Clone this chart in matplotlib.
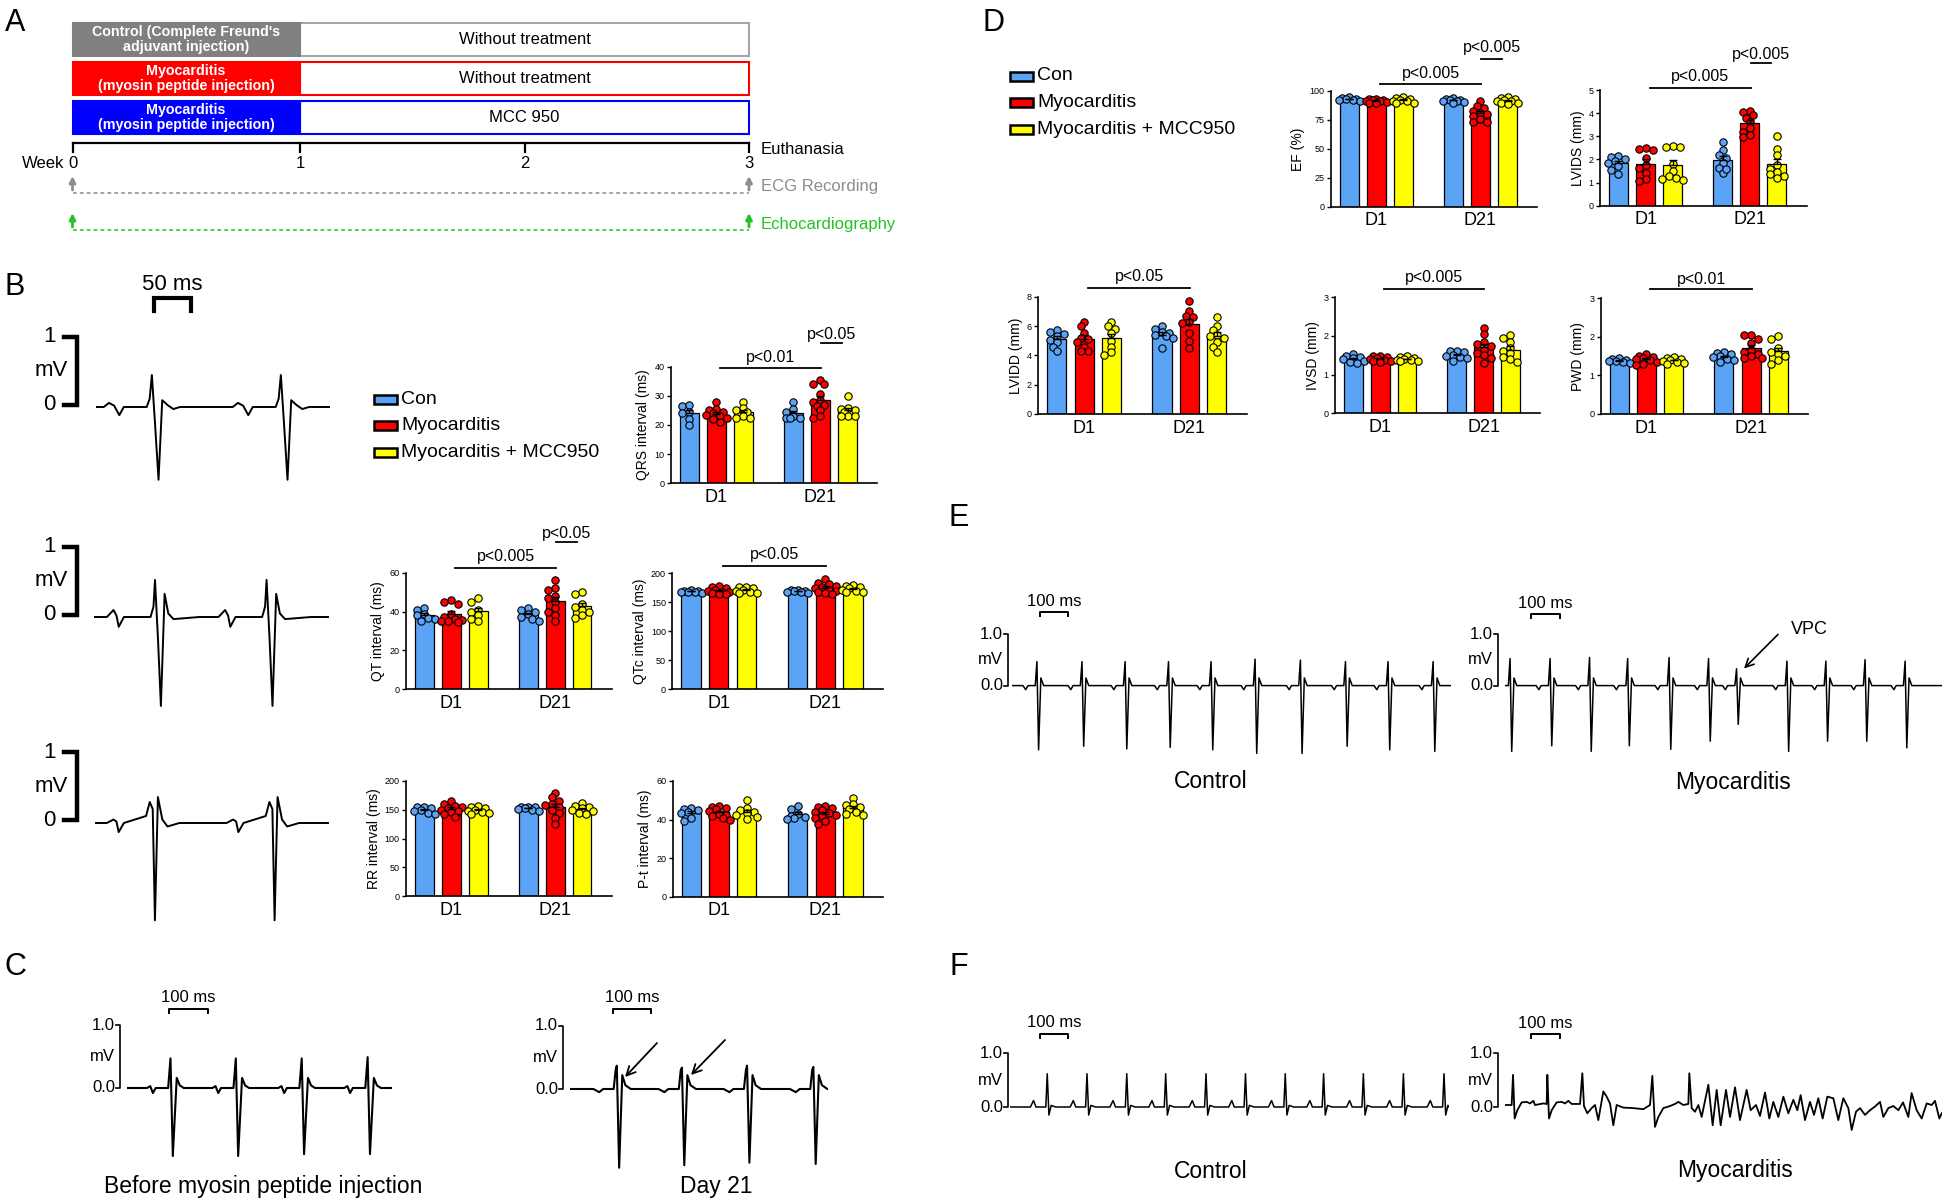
import numpy as np
import matplotlib
matplotlib.use('Agg')
import matplotlib.pyplot as plt
from matplotlib.patches import Rectangle

plt.rcParams['font.family'] = ['Liberation Sans', 'DejaVu Sans']

W, H = 1944, 1201
fig = plt.figure(figsize=(W / 100, H / 100), dpi=100)

# ---------------- data ----------------
GROUPS = ['Con', 'Myocarditis', 'Myocarditis + MCC950']
GROUP_COLORS = ['#5ba3f5', '#ff0000', '#ffff00']
DAYS = ['D1', 'D21']

# each list: D1 Con, D1 Myo, D1 MCC, D21 Con, D21 Myo, D21 MCC
qrs = [[26.5, 27, 24.5, 24, 22, 20],
       [28, 25.5, 25, 24.5, 24, 23.5, 23, 22.5, 22, 21],
       [28, 26, 25, 24.5, 23, 22.5, 22.5],
       [28, 25.5, 24.5, 23, 22.5, 22.5, 22.5],
       [35.5, 34.2, 34, 30.5, 28.5, 28, 27, 26.5, 25, 23, 22.5],
       [30, 26, 25.5, 25, 24.5, 23, 23, 23]]
qt = [[42, 41, 39, 38, 36.5, 35, 36],
      [46, 45, 44, 38.5, 37, 36, 35.5, 35, 35, 34.5],
      [47, 45, 41, 40, 38, 36, 35],
      [42, 41, 40, 38.5, 37, 36, 35],
      [56, 52, 51, 48, 47, 45, 42, 40, 38, 35],
      [50, 49, 44, 42.5, 41, 40, 38, 36.5]]
qtc = [[172, 170, 170, 168, 168, 167, 166],
       [178, 176, 174, 172, 170, 168, 167, 166, 165, 164],
       [177, 177, 175, 172, 170, 168, 166, 166],
       [172, 171, 170, 169, 168, 167, 166],
       [190, 184, 181, 178, 176, 174, 172, 170, 168, 166, 165],
       [179, 178, 176, 174, 172, 170, 168, 167]]
rr = [[155, 155, 153, 150, 148, 145, 143],
      [165, 160, 157, 155, 153, 150, 148, 146, 143, 137],
      [157, 155, 153, 150, 148, 146, 145, 142],
      [155, 155, 154, 153, 152, 150, 148],
      [180, 172, 165, 160, 158, 155, 150, 145, 135, 125],
      [162, 157, 155, 153, 150, 148, 145, 143]]
pt = [[46, 45.5, 45, 44, 43.5, 41, 39],
      [47, 46.5, 46, 45.5, 44.5, 43, 42.5, 42, 41, 40],
      [50, 46, 45, 44, 43.5, 42.5, 41.5, 40.5],
      [47, 45.5, 43, 42, 41.5, 41, 40.5],
      [47, 46.5, 46, 45, 44, 43.5, 42.5, 42, 41, 39.5, 37.5],
      [51, 48, 47.5, 46.5, 45.5, 44, 43, 42.5]]
ef = [[95, 94, 93.5, 93, 92.5, 92, 91],
      [93, 93, 92, 92, 91.5, 91, 90.5, 90, 90],
      [95, 94, 93, 92, 91.5, 91, 90, 89.5],
      [94, 93, 92.5, 92, 91.5, 91, 90.5, 90],
      [91, 87, 85, 83, 81, 80, 78, 76, 73, 73],
      [95, 94, 93, 92, 91.5, 91, 90, 89.5, 89]]
lvids = [[2.15, 2.1, 2.0, 1.95, 1.85, 1.7, 1.55, 1.35],
         [2.5, 2.45, 2.4, 2.05, 1.75, 1.65, 1.4, 1.15, 1.05],
         [2.6, 2.55, 2.55, 1.8, 1.5, 1.3, 1.2, 1.15, 1.1],
         [2.75, 2.4, 2.2, 2.05, 1.85, 1.65, 1.4, 1.6],
         [4.1, 4.05, 3.9, 3.8, 3.6, 3.35, 3.2, 3.05, 2.95],
         [3.0, 2.45, 2.2, 1.75, 1.6, 1.45, 1.35, 1.3, 1.2]]
lvidd = [[5.7, 5.6, 5.45, 5.3, 5.05, 4.9, 4.6, 4.3],
         [6.3, 6.0, 5.5, 5.2, 5.1, 4.9, 4.6, 4.3, 4.3],
         [6.3, 6.0, 5.8, 5.5, 5.0, 4.6, 4.2, 4.0],
         [6.0, 5.8, 5.6, 5.5, 5.4, 5.3, 5.2, 4.5],
         [7.7, 7.0, 6.7, 6.6, 6.3, 6.2, 5.5, 5.0, 4.5],
         [6.6, 6.0, 5.7, 5.4, 5.3, 5.2, 4.9, 4.6, 4.2]]
ivsd = [[1.53, 1.48, 1.45, 1.42, 1.4, 1.35, 1.33, 1.3],
        [1.48, 1.47, 1.45, 1.42, 1.4, 1.38, 1.36, 1.34, 1.32],
        [1.47, 1.45, 1.43, 1.4, 1.38, 1.37, 1.36, 1.35],
        [1.62, 1.6, 1.58, 1.52, 1.48, 1.45, 1.42, 1.35],
        [2.2, 2.05, 1.85, 1.8, 1.75, 1.65, 1.55, 1.5, 1.42, 1.3],
        [2.03, 1.95, 1.85, 1.7, 1.6, 1.55, 1.45, 1.4, 1.32]]
pwd = [[1.45, 1.42, 1.4, 1.38, 1.37, 1.35, 1.33],
       [1.55, 1.5, 1.48, 1.45, 1.42, 1.4, 1.35, 1.3, 1.28],
       [1.47, 1.45, 1.43, 1.4, 1.38, 1.36, 1.33, 1.3],
       [1.6, 1.58, 1.55, 1.5, 1.47, 1.43, 1.4, 1.35],
       [2.05, 2.05, 1.95, 1.85, 1.65, 1.6, 1.55, 1.5, 1.45, 1.45],
       [2.03, 1.95, 1.7, 1.6, 1.55, 1.5, 1.4, 1.3]]

# ECG: beat templates (ms from R peak, mV) and beat times (ms)
b1_t = [-65, -58, -51, -44, -38, -7, -3, 0, 4, 9, 14, 21, 29, 38, 60]
b1_v = [0, 0.06, 0.02, -0.12, 0, 0, 0.12, 0.47, -0.2, -1.07, 0.1, 0.03, -0.03, 0, 0]
b1_beats = [75.5, 249.8]
b2_t = [-65, -56, -52, -49, -42, -6, -2, 0, 4, 8, 13, 18, 25, 60]
b2_v = [0, 0.1, 0.02, -0.14, 0, 0, 0.15, 0.53, -0.3, -1.27, 0.33, 0.05, -0.03, 0]
b2_beats = [82.4, 233.2]
b3_t = [-65, -56, -52, -49, -42, -12, -7, -3, 0, 4, 10, 17, 33, 60]
b3_v = [0, 0.05, 0.02, -0.13, 0, 0.1, 0.3, 0.2, -1.39, 0.37, 0.05, -0.05, 0, 0]
b3_beats = [81, 242.7]

cl_t = [-60, -52, -45, -38, -6, 0, 6, 16, 24, 34, 60]
cl_v = [0, 0.03, -0.08, 0, 0, 0.47, -1.08, 0.16, 0.04, 0, 0]
cl_beats = [111.5, 279, 448, 617]
cl_r = [0.47, 0.47, 0.47, 0.49]
cl_s = [-1.08, -1.08, -1.05, -1.05]
cr_t = [-60, -45, -35, -8, -3, 0, 6, 14, 22, 36, 60]
cr_v = [0, -0.05, 0, 0, 0.3, 0.37, -1.25, 0.22, 0.06, 0, 0]
cr_beats = [120, 287, 454, 624]
cr_r = [0.37, 0.34, 0.37, 0.35]
cr_s = [-1.25, -1.21, -1.17, -1.19]

e_t = [-50, -40, -32, -6, 0, 6, 14, 24, 40]
e_v = [0, -0.08, 0, 0, 0.47, -1.26, 0.15, 0, 0]
el_beats = [89, 250, 404, 559, 711, 868, 1030, 1191, 1343, 1504]
el_r = [0.47, 0.47, 0.47, 0.47, 0.47, 0.52, 0.50, 0.47, 0.47, 0.47]
el_s = [-1.26, -1.19, -1.24, -1.21, -1.26, -1.33, -1.33, -1.19, -1.26, -1.29]
er_beats = [18, 161, 302, 438, 586, 727, 827, 1007, 1146, 1286, 1429]
er_r = [0.53, 0.53, 0.55, 0.53, 0.55, 0.53, 0.33, 0.48, 0.48, 0.51, 0.48]
er_s = [-1.29, -1.18, -1.29, -1.18, -1.25, -1.09, -0.76, -1.29, -1.09, -1.09, -1.22]

fl_t = [-60, -49, -40, -5, 0, 6, 14, 30, 60]
fl_v = [0, 0.12, 0, 0, 0.62, -0.15, 0.03, 0, 0]
fl_beats = [133, 275, 417, 556, 700, 841, 983, 1120, 1262, 1405, 1550]

# myocarditis VT trace, vertices
fr_t = [0, 23.8, 28.6, 34.5, 44.0, 59.5, 77.4, 89.3, 101.2, 107.1, 136.9, 148.8,
        151.2, 157.1, 166.7, 184.5, 202.4, 214.3, 226.2, 238.1, 267.9, 276.2,
        282.1, 294.0, 309.5, 321.4, 333.3, 351.2, 363.1, 375.0, 386.9, 398.8,
        422.6, 458.3, 494.0, 517.9, 526.2, 535.7, 547.6, 565.5, 589.3, 607.1,
        619.0, 636.9, 654.8, 658.3, 666.7, 678.6, 690.5, 702.4, 726.2, 741.7,
        756.0, 770.2, 789.3, 803.6, 821.5, 839.3, 863.1, 877.4, 896.4, 910.7,
        928.6, 944.0, 958.3, 976.2, 994.1, 1011.9, 1029.8, 1044.0, 1055.9,
        1071.4, 1089.3, 1103.6, 1119.0, 1134.5, 1151.2, 1172.6, 1190.4, 1208.3,
        1226.2, 1238.1, 1253.6, 1267.9, 1285.7, 1303.6, 1321.4, 1339.3, 1351.2,
        1369.0, 1387.0, 1404.8, 1421.6, 1440.4, 1452.3, 1470.2, 1488.1, 1505.9,
        1523.8, 1535.7, 1551.2, 1559.5]
fr_v = [0, 0, 0.58, -0.26, -0.10, 0.05, 0.06, 0.03, 0.08, 0, 0.03, 0.02,
        0.58, -0.26, -0.10, 0.05, 0.06, 0.03, 0.08, 0.02, 0.02, 0.61,
        -0.02, -0.16, -0.06, 0, -0.29, 0.26, 0.16, 0.03, -0.39, 0,
        -0.05, -0.06, -0.08, 0, 0.56, -0.42, -0.23, -0.06, -0.02, 0.02,
        0.06, 0, 0.02, 0.61, -0.06, -0.13, 0, -0.23, 0.39, -0.39,
        0.29, -0.39, 0.29, -0.23, 0.34, -0.29, 0.29, -0.10, 0, -0.21,
        0.24, -0.26, 0.06, -0.23, 0.16, -0.16, 0.10, -0.10, 0.19,
        -0.29, 0.06, -0.19, 0.13, -0.26, 0.16, 0.13, -0.29, 0.13,
        -0.06, -0.48, -0.13, -0.06, -0.19, -0.10, -0.03, 0.06, -0.23,
        -0.06, -0.02, -0.10, 0.05, -0.23, 0.23, -0.10, -0.26, 0.03,
        0, 0.08, -0.26, -0.16]


# ---------------- helpers ----------------
def px_axes(x0, y0, x1, y1):
    return fig.add_axes([x0 / W, 1 - y1 / H, (x1 - x0) / W, (y1 - y0) / H])


BAR_POS = [0, 1, 2, 3.85, 4.85, 5.85]
XLIM = (-0.68, 6.95)


def swarm_offsets(vals, ppx, ppy, d=7.0, maxoff=0.42):
    # simple deterministic beeswarm (pixel space)
    cands = [0.0]
    for k in range(1, 8):
        cands += [-0.5 * k * d, 0.5 * k * d]
    cands = [c for c in cands if abs(c / ppx) <= maxoff]
    placed = []
    offs = np.zeros(len(vals))
    for i in np.argsort(vals)[::-1]:
        best, best_d = cands[0], -1
        for c in cands:
            if placed:
                dmin = min(np.hypot(c - px, (vals[i] - pv) * ppy) for px, pv in placed)
            else:
                dmin = 1e9
            if dmin >= 0.8 * d:
                best = c
                break
            if dmin > best_d:
                best, best_d = c, dmin
        placed.append((best, vals[i]))
        offs[i] = best / ppx
    return offs


def bar_panel(box, data, ymax, yticks, ylabel, pnotes):
    ax = px_axes(*box)
    ax.patch.set_alpha(0)
    ax.set_xlim(*XLIM)
    ax.set_ylim(0, ymax)
    ppx = (box[2] - box[0]) / (XLIM[1] - XLIM[0])
    ppy = (box[3] - box[1]) / ymax
    for k, vals in enumerate(data):
        vals = np.asarray(vals, float)
        color = GROUP_COLORS[k % 3]
        pos = BAR_POS[k]
        m = vals.mean()
        se = vals.std(ddof=1) / np.sqrt(len(vals))
        ax.bar(pos, m, width=0.7, color=color, edgecolor='black', linewidth=0.9, zorder=2)
        off = swarm_offsets(vals, ppx, ppy)
        ax.scatter(pos + off, vals, s=28, color=color, edgecolor='black',
                   linewidth=0.8, zorder=3, clip_on=False)
        ax.errorbar(pos, m, yerr=[[0], [se]], fmt='none', ecolor='black',
                    elinewidth=1, capsize=3, capthick=1, zorder=4)
    for s in ['top', 'right']:
        ax.spines[s].set_visible(False)
    for s in ['left', 'bottom']:
        ax.spines[s].set_linewidth(1.2)
    ax.set_xticks([1, 4.85])
    ax.set_xticklabels(DAYS, fontsize=13)
    ax.tick_params(axis='x', length=0, pad=4)
    ax.set_yticks(yticks)
    ax.set_yticklabels([str(t) for t in yticks], fontsize=6.5)
    ax.tick_params(axis='y', length=3, width=1, pad=1.5)
    ax.set_ylabel(ylabel, fontsize=10, labelpad=3)
    for x0, x1, yl, yt, txt in pnotes:
        ax.plot([x0, x1], [yl * ymax, yl * ymax], color='black', lw=1.3, clip_on=False)
        ax.text((x0 + x1) / 2, yt * ymax, txt, ha='center', va='center', fontsize=11.5)
    return ax


def build_trace(beats, tpl_t, tpl_v, span, r=None, s=None, ir=None, is_=None):
    ts, vs = [0.0], [0.0]
    for k, bt in enumerate(beats):
        for j, (dt, dv) in enumerate(zip(tpl_t, tpl_v)):
            v = dv
            if r is not None and j == ir:
                v = r[k]
            if s is not None and j == is_:
                v = s[k]
            if 0 <= bt + dt <= span:
                ts.append(bt + dt)
                vs.append(v)
    ts.append(span)
    vs.append(0.0)
    order = np.argsort(ts, kind='stable')
    return np.array(ts)[order], np.array(vs)[order]


def trace_axes(x0, x1, base, px_ms, px_mv, t, v, lw=1.1):
    top, bot = base - 1.4 * px_mv, base + 1.7 * px_mv
    ax = px_axes(x0, top, x1, bot)
    ax.set_xlim(0, (x1 - x0) / px_ms)
    ax.set_ylim((base - bot) / px_mv, (base - top) / px_mv)
    ax.axis('off')
    ax.plot(t, v, color='black', lw=lw, solid_joinstyle='round')
    return ax


# ---------------- bar charts ----------------
LONG = 1.15
LEND = 4.88
bar_panel((670.7, 366.7, 877.3, 483.3), qrs, 40, [0, 10, 20, 30, 40], 'QRS interval (ms)',
          [(LONG, LEND, 0.986, 1.08, 'p<0.01'), (LEND, 5.65, 1.2, 1.28, 'p<0.05')])
bar_panel((406, 572.7, 611.7, 689.3), qt, 60, [0, 20, 40, 60], 'QT interval (ms)',
          [(LONG, LEND, 1.043, 1.14, 'p<0.005'), (LEND, 5.65, 1.26, 1.34, 'p<0.05')])
bar_panel((672.3, 573.3, 883.3, 689.3), qtc, 200, [0, 50, 100, 150, 200], 'QTc interval (ms)',
          [(LONG, LEND, 1.063, 1.158, 'p<0.05')])
bar_panel((406, 781, 611.7, 896), rr, 200, [0, 50, 100, 150, 200], 'RR interval (ms)', [])
bar_panel((672.7, 781, 883.3, 896.7), pt, 60, [0, 20, 40, 60], 'P-t interval (ms)', [])
bar_panel((1330.7, 91, 1537.3, 206.7), ef, 100, [0, 25, 50, 75, 100], 'EF (%)',
          [(LONG, LEND, 1.06, 1.153, 'p<0.005'), (LEND, 5.65, 1.274, 1.378, 'p<0.005')])
bar_panel((1600, 90, 1806.7, 205.7), lvids, 5, [0, 1, 2, 3, 4, 5], 'LVIDS (mm)',
          [(LONG, LEND, 1.015, 1.115, 'p<0.005'), (LEND, 5.65, 1.23, 1.31, 'p<0.005')])
bar_panel((1038.3, 296.7, 1246.7, 414), lvidd, 8, [0, 2, 4, 6, 8], 'LVIDD (mm)',
          [(LONG, LEND, 1.072, 1.176, 'p<0.05')])
bar_panel((1335, 297.3, 1540, 413.3), ivsd, 3, [0, 1, 2, 3], 'IVSD (mm)',
          [(LONG, LEND, 1.072, 1.17, 'p<0.005')])
bar_panel((1600.7, 298.3, 1808.3, 414), pwd, 3, [0, 1, 2, 3], 'PWD (mm)',
          [(LONG, LEND, 1.078, 1.164, 'p<0.01')])

# ---------------- ECG traces ----------------
t, v = build_trace(b1_beats, b1_t, b1_v, 316)
trace_axes(96, 330, 407, 0.74, 68, t, v, lw=1.4)
t, v = build_trace(b2_beats, b2_t, b2_v, 318)
trace_axes(94, 329, 617, 0.74, 70, t, v, lw=1.4)
t, v = build_trace(b3_beats, b3_t, b3_v, 316)
trace_axes(95, 329, 823, 0.74, 70, t, v, lw=1.4)

t, v = build_trace(cl_beats, cl_t, cl_v, 679, cl_r, cl_s, 5, 6)
trace_axes(127, 392, 1088, 0.39, 63, t, v, lw=1.5)
t, v = build_trace(cr_beats, cr_t, cr_v, 661, cr_r, cr_s, 5, 6)
trace_axes(570, 828, 1089, 0.39, 63, t, v, lw=1.5)

t, v = build_trace(el_beats, e_t, e_v, 1568, el_r, el_s, 4, 5)
trace_axes(1012, 1451, 685.6, 0.28, 51, t, v, lw=1.1)
t, v = build_trace(er_beats, e_t, e_v, 1561, er_r, er_s, 4, 5)
trace_axes(1505, 1942, 685.6, 0.28, 51, t, v, lw=1.1)

t, v = build_trace(fl_beats, fl_t, fl_v, 1568)
trace_axes(1010, 1449, 1107, 0.28, 53.6, t, v, lw=1.1)
trace_axes(1505, 1942, 1105, 0.28, 52, np.array(fr_t), np.array(fr_v), lw=1.3)

# ---------------- overlay (schematic, labels, scale bars) ----------------
ov = fig.add_axes([0, 0, 1, 1])
ov.set_xlim(0, W)
ov.set_ylim(H, 0)
ov.axis('off')

for lab, x, y in [('A', 15, 23), ('B', 15, 287), ('C', 15, 967),
                  ('D', 993, 23), ('E', 959, 518), ('F', 959, 967)]:
    ov.text(x, y, lab, fontsize=22, ha='center', va='center')

# panel A
a_rows = [("Control (Complete Freund's\nadjuvant injection)", 'Without treatment', '#808080', '#a6a6a6'),
          ("Myocarditis\n(myosin peptide injection)", 'Without treatment', '#ff0000', '#ff0000'),
          ("Myocarditis\n(myosin peptide injection)", 'MCC 950', '#0000ff', '#0000ff')]
for (ltxt, rtxt, fill, edge), top in zip(a_rows, [23, 62, 101]):
    ov.add_patch(Rectangle((300, top), 449, 33, facecolor='white', edgecolor=edge, lw=1.5))
    ov.add_patch(Rectangle((72.5, top), 227.5, 33, facecolor=fill, edgecolor=fill, lw=1.5))
    ov.text(186, top + 16.5, ltxt, color='white', fontweight='bold', fontsize=10.3,
            ha='center', va='center', linespacing=1.05)
    ov.text(524.5, top + 16.5, rtxt, fontsize=12, ha='center', va='center')

week_x = [72.5, 300, 525, 749]
ov.plot([72.5, 749], [143, 143], color='black', lw=1.6)
for i, x in enumerate(week_x):
    ov.plot([x, x], [143, 152], color='black', lw=1.6)
    ov.text(x, 164, str(i), fontsize=12, ha='center', va='center')
ov.text(64, 164, 'Week', fontsize=12, ha='right', va='center')
ov.text(761, 150, 'Euthanasia', fontsize=12, ha='left', va='center')

for (ya, yl, col, txt) in [(190, 193, '#8c8c8c', 'ECG Recording'), (227, 230, '#22c422', 'Echocardiography')]:
    ov.plot([72.5, 749], [yl, yl], color=col, lw=1.1, ls=(0, (2.5, 2)))
    for x in [72.5, 749]:
        ov.annotate('', xy=(x, ya - 14), xytext=(x, ya),
                    arrowprops=dict(arrowstyle='-|>', color=col, lw=2, mutation_scale=9,
                                    shrinkA=0, shrinkB=0))
    ov.text(761, ya - 3, txt, color=col, fontsize=12, ha='left', va='center')

# legends
for lx, ly0 in [(374, 399), (1010, 76)]:
    for k, name in enumerate(GROUPS):
        y = ly0 + k * 26.7
        ov.add_patch(Rectangle((lx, y - 4.5), 23, 9, facecolor=GROUP_COLORS[k], edgecolor='black', lw=1.8))
        ov.text(lx + 27, y, name, fontsize=14, ha='left', va='center')

# panel B scale bars
ov.text(172, 285, '50 ms', fontsize=16, ha='center', va='center')
ov.plot([154, 154, 191, 191], [311, 298, 298, 311], color='black', lw=3, solid_joinstyle='miter')
for y1 in [337, 547, 752]:
    y0 = y1 + 68
    ov.plot([64, 77, 77, 64], [y1, y1, y0, y0], color='black', lw=3.2, solid_joinstyle='miter')
    ov.text(49, y1, '1', fontsize=16, ha='center', va='center')
    ov.text(51, (y1 + y0) / 2, 'mV', fontsize=16, ha='center', va='center')
    ov.text(49, y0, '0', fontsize=16, ha='center', va='center')


def small_scale(ax_x, y1, y0, bar_x0, bar_x1, bar_y, label_x):
    ov.plot([ax_x - 4, ax_x, ax_x, ax_x - 4], [y1, y1, y0, y0], color='black', lw=1.2)
    ov.text(label_x, y1, '1.0', fontsize=12, ha='right', va='center')
    ov.text(label_x, (y1 + y0) / 2, 'mV', fontsize=12, ha='right', va='center')
    ov.text(label_x, y0, '0.0', fontsize=12, ha='right', va='center')
    ov.plot([bar_x0, bar_x0, bar_x1, bar_x1], [bar_y + 4, bar_y, bar_y, bar_y + 4], color='black', lw=1.4)
    ov.text((bar_x0 + bar_x1) / 2, bar_y - 11, '100 ms', fontsize=12, ha='center', va='center')


small_scale(120, 1025, 1088, 169, 208, 1009, 115)
small_scale(563, 1026, 1089, 612.5, 651, 1009, 558)
small_scale(1008, 634.4, 685.6, 1040, 1068, 612, 1003)
small_scale(1498, 634.4, 685.6, 1531, 1560, 614, 1493)
small_scale(1008, 1053.4, 1107, 1040, 1068, 1033.5, 1003)
small_scale(1498, 1053.4, 1107, 1531, 1560, 1034, 1493)

ov.text(263, 1187, 'Before myosin peptide injection', fontsize=16.5, ha='center', va='center')
ov.text(716, 1187, 'Day 21', fontsize=16.5, ha='center', va='center')
for (tx, ty, hx, hy) in [(657, 1043, 625, 1077), (725, 1040, 691, 1075)]:
    ov.annotate('', xy=(hx, hy), xytext=(tx, ty),
                arrowprops=dict(arrowstyle='->', color='black', lw=1.3, mutation_scale=16,
                                shrinkA=0, shrinkB=0))

ov.text(1211, 782, 'Control', fontsize=16.5, ha='center', va='center')
ov.text(1733, 782, 'Myocarditis', fontsize=16.5, ha='center', va='center')
ov.text(1211, 1171, 'Control', fontsize=16.5, ha='center', va='center')
ov.text(1735, 1171, 'Myocarditis', fontsize=16.5, ha='center', va='center')
ov.text(1809, 630, 'VPC', fontsize=13, ha='center', va='center')
ov.annotate('', xy=(1744, 668.5), xytext=(1778, 634.4),
            arrowprops=dict(arrowstyle='->', color='black', lw=1.2, mutation_scale=15,
                            shrinkA=0, shrinkB=0))

fig.savefig('out.png', dpi=100)
